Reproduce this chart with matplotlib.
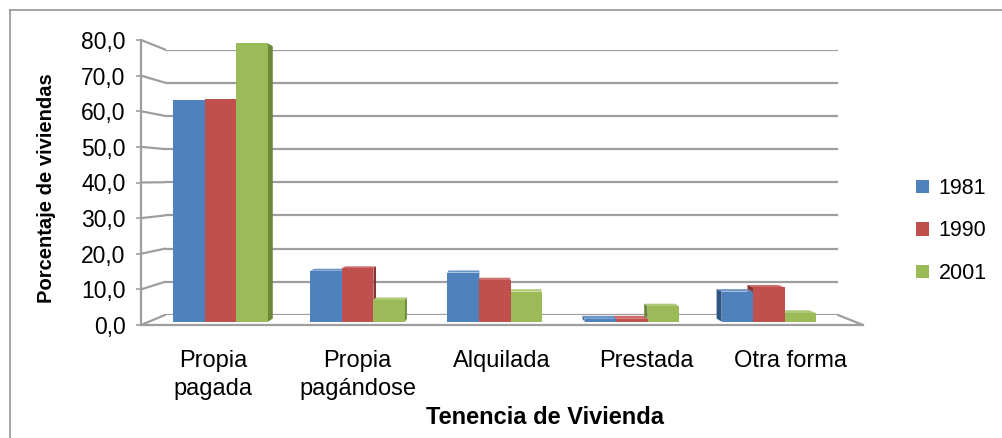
import matplotlib
matplotlib.use("Agg")
import matplotlib.pyplot as plt
from matplotlib.patches import Polygon, Patch, ConnectionPatch
from matplotlib.lines import Line2D
import numpy as np

# Housing tenure shares (%) by census year
categories = ["Propia\npagada", "Propia\npagándose", "Alquilada", "Prestada", "Otra forma"]
years = ["1981", "1990", "2001"]
v1981 = [62.7, 14.4, 13.9, 0.8, 8.5]
v1990 = [63.0, 15.1, 11.8, 0.8, 9.7]
v2001 = [78.7, 6.1, 8.5, 4.3, 2.4]
y_ticks = [0, 10, 20, 30, 40, 50, 60, 70, 80]
y_tick_labels = ["0,0", "10,0", "20,0", "30,0", "40,0", "50,0", "60,0", "70,0", "80,0"]

plt.rcParams['font.family'] = ['Liberation Sans', 'DejaVu Sans']

W, H = 1003, 438
fig = plt.figure(figsize=(W / 100, H / 100), dpi=100)
fig.patch.set_facecolor("white")

GRID = "#9e9e9e"
front_colors = ["#4F81BD", "#C0504D", "#9BBB59"]
side_colors = ["#2E5482", "#8A3431", "#6B8838"]
top_colors = ["#6C96C8", "#CE6E6B", "#AECA78"]


def box(x0, ytop, x1, ybot):
    return [x0 / W, 1 - ybot / H, (x1 - x0) / W, (ybot - ytop) / H]


# back wall with horizontal gridlines
back = fig.add_axes(box(165, 49.5, 838, 315), zorder=0)
back.set_xlim(0, 1)
back.set_ylim(0, 80)
for v in y_ticks:
    back.axhline(v, color=GRID, lw=1.6)
back.axis("off")

# front frame: value axis, category labels, floor edge
front = fig.add_axes(box(141, 40, 863, 325), zorder=1)
front.set_facecolor("none")
front.set_xlim(-0.5, 4.5)
front.set_ylim(0, 80)
for s in ["top", "right"]:
    front.spines[s].set_visible(False)
for s in ["left", "bottom"]:
    front.spines[s].set_color(GRID)
    front.spines[s].set_linewidth(1.6)
front.set_yticks(y_ticks)
front.set_yticklabels(y_tick_labels)
front.tick_params(axis="y", direction="out", length=3.6, width=1.2, color=GRID,
                  labelsize=16.5, pad=7.5)
front.set_xticks(range(len(categories)))
front.set_xticklabels(categories, linespacing=1.35)
front.tick_params(axis="x", length=0, labelsize=17, pad=18)

# side wall lines joining the value axis to the back wall
for v in y_ticks:
    fig.add_artist(ConnectionPatch(xyA=(0, v), coordsA=front.get_yaxis_transform(),
                                   xyB=(0, v), coordsB=back.get_yaxis_transform(),
                                   color=GRID, lw=1.6))
fig.add_artist(ConnectionPatch(xyA=(1, 0), coordsA=front.transAxes,
                               xyB=(1, 0), coordsB=back.transAxes,
                               color=GRID, lw=1.6))

# bar plane
ax = fig.add_axes(box(152, 38.7, 837.5, 321.7), zorder=2)
ax.set_facecolor("none")
ax.set_xlim(-0.5, 4.5)
ax.set_ylim(0, 80)
ax.axis("off")

x = np.arange(len(categories))
width = 0.23
series = [v1981, v1990, v2001]
offsets = [-width, 0, width]

VX, VY = 492, H - 179   # vanishing point, display pixels
TB = 0.022              # bar depth factor


def to_back(p):
    return (p[0] + TB * (VX - p[0]), p[1] + TB * (VY - p[1]))


inv = ax.transData.inverted()
for i, vals in enumerate(series):
    bars = ax.bar(x + offsets[i], vals, width, color=front_colors[i], linewidth=0)
    for j, rect in enumerate(bars):
        x0, x1 = rect.get_x(), rect.get_x() + rect.get_width()
        h = rect.get_height()
        p_bl = ax.transData.transform((x0, 0))
        p_br = ax.transData.transform((x1, 0))
        p_tl = ax.transData.transform((x0, h))
        p_tr = ax.transData.transform((x1, h))
        cx = (p_bl[0] + p_br[0]) / 2
        left_side = cx < VX
        rank = i if left_side else 2 - i
        z = 2 + rank * 0.1 + j * 0.001
        rect.set_zorder(z + 0.05)
        if left_side:
            side = [p_br, p_tr, to_back(p_tr), to_back(p_br)]
        else:
            side = [p_bl, p_tl, to_back(p_tl), to_back(p_bl)]
        ax.add_patch(Polygon(inv.transform(side), closed=True, fc=side_colors[i],
                             ec="none", zorder=z + 0.02, clip_on=False))
        if p_tl[1] < VY:
            top = [p_tl, p_tr, to_back(p_tr), to_back(p_tl)]
            ax.add_patch(Polygon(inv.transform(top), closed=True, fc=top_colors[i],
                                 ec="none", zorder=z + 0.01, clip_on=False))

# axis titles
fig.text(47 / W, 1 - 188 / H, "Porcentaje de viviendas", rotation=90,
         ha="center", va="center", fontsize=14.5, fontweight="bold")
fig.text(545 / W, 1 - 418 / H, "Tenencia de Vivienda", ha="center", va="center",
         fontsize=17, fontweight="bold")

# legend
handles = [Patch(facecolor=c, edgecolor="none", label=yr) for c, yr in zip(front_colors, years)]
fig.legend(handles=handles, loc="center left", bbox_to_anchor=(916 / W, 1 - 231 / H),
           frameon=False, fontsize=15.5, handlelength=0.6, handleheight=0.6,
           handletextpad=0.45, labelspacing=1.0, borderpad=0, borderaxespad=0)

# chart area border
fig.add_artist(Line2D([10 / W, 1], [1 - 10 / H, 1 - 10 / H], transform=fig.transFigure,
                      color="#8c8c8c", lw=1.1))
fig.add_artist(Line2D([10 / W, 10 / W], [0, 1 - 10 / H], transform=fig.transFigure,
                      color="#8c8c8c", lw=1.1))

fig.savefig("out.png", dpi=100)
